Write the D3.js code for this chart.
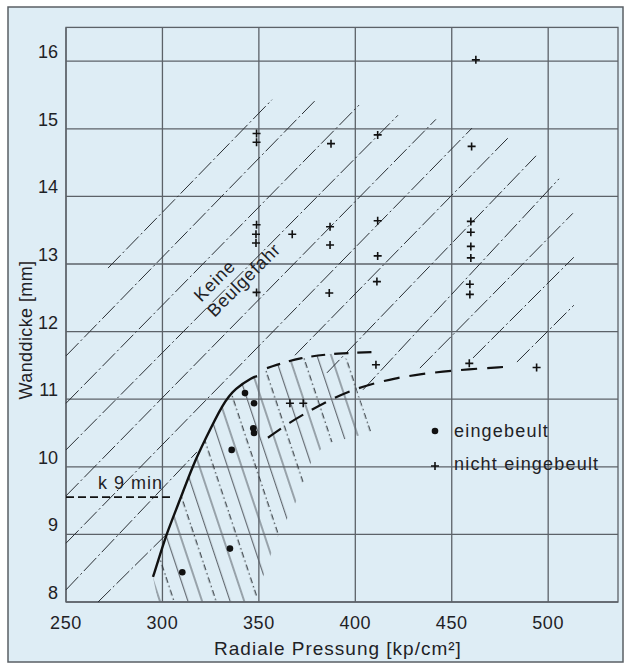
<!DOCTYPE html>
<html>
<head>
<meta charset="utf-8">
<script src="https://cdn.jsdelivr.net/npm/d3@7"></script>
<style>
  body { margin: 0; background: #fff; }
  text { font-family: "Liberation Sans", Arial, sans-serif; fill: #1e2226; }
</style>
</head>
<body>
<div id="chart"></div>
<script>
// Achsen
const xTicks = [250, 300, 350, 400, 450, 500];
const yTicks = [8, 9, 10, 11, 12, 13, 14, 15, 16];

// Grenzkurve (durchgezogen)
const grenzkurve = [
  [295.1, 8.37], [298.8, 8.70], [302.4, 9.03], [309.1, 9.51], [315.9, 10.03],
  [322.1, 10.40], [331.4, 10.94], [337.7, 11.16], [347.0, 11.33], [349.1, 11.34]
];

// obere und untere gestrichelte Grenze
const obereGrenze = [[354.2, 11.46], [371.3, 11.62], [390.5, 11.68], [412.8, 11.70]];
const untereGrenze = [
  [354.7, 10.43], [366.1, 10.66], [376.5, 10.83], [386.9, 10.99], [397.2, 11.12],
  [407.6, 11.22], [420.6, 11.31], [433.5, 11.37], [451.7, 11.43], [478.6, 11.48]
];

// k 9 min
const k9min = [[250, 9.55], [305.5, 9.55]];

// schraffiertes Gebiet (Beulgefahr)
const schraffur = [
  [295.1, 8.37], [298.8, 8.70], [302.4, 9.03], [309.1, 9.51], [315.9, 10.03],
  [322.1, 10.40], [331.4, 10.94], [337.7, 11.16], [347.0, 11.33], [349.1, 11.34],
  [354.2, 11.46], [371.3, 11.62], [390.5, 11.68], [398.3, 11.55], [400.9, 11.14],
  [408.6, 10.51], [393.1, 10.40], [385.3, 10.35], [378.0, 10.14], [369.2, 9.48],
  [358.9, 8.92], [351.6, 8.33], [348.0, 8.0], [297.7, 8.0]
];

// schraege Linien [x1, y1, x2, y2]
const diagonalen = [
  [271.8, 12.94, 356.8, 15.43],
  [250, 11.64, 379.6, 15.43],
  [250, 10.94, 401.9, 15.35],
  [250, 10.25, 422.1, 15.20],
  [250, 9.57, 441.8, 15.14],
  [250, 8.87, 460.5, 15.01],
  [250, 8.18, 317.9, 10.22],
  [368.7, 11.65, 479.7, 14.88],
  [266.6, 8.0, 302.4, 9.01],
  [385.3, 11.39, 493.7, 14.60],
  [404.0, 11.14, 505.6, 14.26],
  [433.5, 11.46, 512.8, 13.75],
  [461.0, 11.61, 513.3, 13.10],
  [483.8, 11.55, 513.3, 12.39]
];

// Messpunkte
const eingebeult = [
  [310.3, 8.44], [335.0, 8.79], [335.9, 10.25], [342.8, 11.09],
  [347.5, 10.94], [347.1, 10.57], [347.5, 10.50]
];
const nichtEingebeult = [
  [348.8, 14.93], [348.8, 14.80], [348.8, 13.58], [348.5, 13.44], [348.5, 13.31], [348.8, 12.58],
  [367.3, 13.44],
  [387.4, 14.78], [386.9, 13.55], [386.9, 13.28], [386.5, 12.57],
  [411.6, 14.91], [411.6, 13.64], [411.6, 13.12], [411.2, 12.74],
  [462.5, 16.02], [460.3, 14.74], [459.9, 13.63], [459.9, 13.47], [459.9, 13.26],
  [459.9, 13.09], [459.4, 12.70], [459.4, 12.55],
  [410.7, 11.51], [459.1, 11.53], [494.0, 11.47],
  [366.1, 10.94], [373.0, 10.94]
];

const W = 626, H = 666;
const svg = d3.select("#chart").append("svg")
  .attr("width", W).attr("height", H);

// Papier
svg.append("rect")
  .attr("x", 8).attr("y", 7).attr("width", 615).attr("height", 655)
  .attr("fill", "#deedf5").attr("stroke", "#5a5f64").attr("stroke-width", 1.5);

const x = d3.scaleLinear().domain([250, 536.2]).range([66, 618]);
const y = d3.scaleLinear().domain([8, 16.5]).range([602, 27.4]);

// Schraffur-Muster
const defs = svg.append("defs");
const pat = defs.append("pattern")
  .attr("id", "hatch")
  .attr("patternUnits", "userSpaceOnUse")
  .attr("width", 40).attr("height", 40)
  .attr("patternTransform", "rotate(-18.4)");
pat.append("line").attr("x1", 2).attr("y1", 0).attr("x2", 2).attr("y2", 40)
  .attr("stroke", "#5d646b").attr("stroke-width", 1.1);
pat.append("line").attr("x1", 15.3).attr("y1", 0).attr("x2", 15.3).attr("y2", 40)
  .attr("stroke", "#2e3338").attr("stroke-width", 1.1).attr("stroke-dasharray", "6,3,1.5,3");
pat.append("line").attr("x1", 28.6).attr("y1", 0).attr("x2", 28.6).attr("y2", 40)
  .attr("stroke", "#5d646b").attr("stroke-width", 1.1);

// Gitter
const grid = svg.append("g").attr("stroke", "#5c6268").attr("stroke-width", 1.3);
grid.selectAll(".gx").data(xTicks).join("line")
  .attr("x1", d => x(d)).attr("x2", d => x(d))
  .attr("y1", y(8)).attr("y2", y(16.5));
grid.selectAll(".gy").data(yTicks).join("line")
  .attr("x1", x(250)).attr("x2", x(536.2))
  .attr("y1", d => y(d)).attr("y2", d => y(d));
svg.append("rect")
  .attr("x", x(250)).attr("y", y(16.5))
  .attr("width", x(536.2) - x(250)).attr("height", y(8) - y(16.5))
  .attr("fill", "none").attr("stroke", "#5c6268").attr("stroke-width", 1.3);

const line = d3.line().x(d => x(d[0])).y(d => y(d[1]));
const smooth = d3.line().x(d => x(d[0])).y(d => y(d[1])).curve(d3.curveBasis);

// schraffiertes Gebiet
svg.append("path")
  .datum(schraffur)
  .attr("d", d3.line().x(d => x(d[0])).y(d => y(d[1])).curve(d3.curveLinearClosed))
  .attr("fill", "url(#hatch)");

// schraege Linien
svg.append("g").selectAll("line").data(diagonalen).join("line")
  .attr("x1", d => x(d[0])).attr("y1", d => y(d[1]))
  .attr("x2", d => x(d[2])).attr("y2", d => y(d[3]))
  .attr("stroke", "#2a2f34").attr("stroke-width", 1)
  .attr("stroke-dasharray", "18,3,2,3");

// Grenzkurven
svg.append("path").datum(grenzkurve)
  .attr("d", smooth)
  .attr("fill", "none").attr("stroke", "#111").attr("stroke-width", 2.4);

svg.append("path").datum(obereGrenze)
  .attr("d", smooth)
  .attr("fill", "none").attr("stroke", "#111").attr("stroke-width", 2.2)
  .attr("stroke-dasharray", "14,9");

svg.append("path").datum(untereGrenze)
  .attr("d", smooth)
  .attr("fill", "none").attr("stroke", "#111").attr("stroke-width", 2.2)
  .attr("stroke-dasharray", "16,10");

svg.append("path").datum(k9min)
  .attr("d", line)
  .attr("fill", "none").attr("stroke", "#111").attr("stroke-width", 1.8)
  .attr("stroke-dasharray", "8,4");

// Punkte
svg.append("g").selectAll("circle").data(eingebeult).join("circle")
  .attr("cx", d => x(d[0])).attr("cy", d => y(d[1]))
  .attr("r", 3.3).attr("fill", "#111");

const plus = "M-4,0H4M0,-4V4";
svg.append("g").selectAll("path").data(nichtEingebeult).join("path")
  .attr("transform", d => `translate(${x(d[0])},${y(d[1])})`)
  .attr("d", plus).attr("stroke", "#111").attr("stroke-width", 1.6);

// Achsenbeschriftung
svg.append("g").selectAll("text").data(xTicks).join("text")
  .attr("x", d => x(d)).attr("y", 629)
  .attr("text-anchor", "middle").attr("font-size", 18).attr("letter-spacing", 0.6)
  .text(d => d);

svg.append("g").selectAll("text").data(yTicks).join("text")
  .attr("x", 58).attr("y", d => y(d) - 3)
  .attr("text-anchor", "end").attr("font-size", 18)
  .text(d => d);

svg.append("text")
  .attr("x", 338).attr("y", 655)
  .attr("text-anchor", "middle").attr("font-size", 19).attr("letter-spacing", 1)
  .text("Radiale Pressung [kp/cm²]");

svg.append("text")
  .attr("transform", "translate(32,330) rotate(-90)")
  .attr("text-anchor", "middle").attr("font-size", 18).attr("letter-spacing", 0.4)
  .text("Wanddicke [mm]");

// Beschriftungen im Diagramm
svg.append("text")
  .attr("x", 98).attr("y", 489)
  .attr("font-size", 18).attr("letter-spacing", 1)
  .text("k 9 min");

svg.append("text")
  .attr("transform", `translate(${x(329.3)},${y(12.69)}) rotate(-45)`)
  .attr("text-anchor", "middle").attr("font-size", 18).attr("letter-spacing", 0.8)
  .text("Keine");
svg.append("text")
  .attr("transform", `translate(${x(344.4)},${y(12.70)}) rotate(-45)`)
  .attr("text-anchor", "middle").attr("font-size", 18).attr("letter-spacing", 0.8)
  .text("Beulgefahr");

// Legende
const leg = svg.append("g");
leg.append("circle").attr("cx", 435).attr("cy", 431).attr("r", 3.3).attr("fill", "#111");
leg.append("text").attr("x", 454).attr("y", 437)
  .attr("font-size", 18).attr("letter-spacing", 1.2).text("eingebeult");
leg.append("path").attr("transform", "translate(435,466)")
  .attr("d", plus).attr("stroke", "#111").attr("stroke-width", 1.6);
leg.append("text").attr("x", 454).attr("y", 470)
  .attr("font-size", 18).attr("letter-spacing", 1.2).text("nicht eingebeult");
</script>
</body>
</html>
